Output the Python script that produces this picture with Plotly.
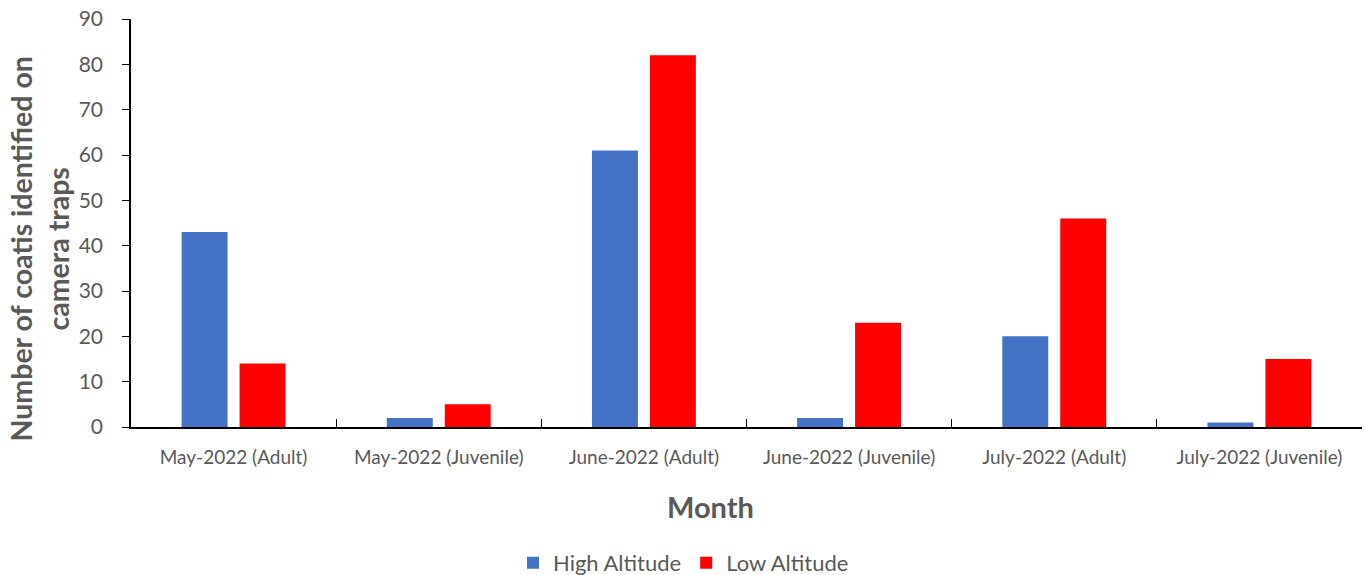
import plotly.graph_objects as go

categories = ["May-2022 (Adult)", "May-2022 (Juvenile)", "June-2022 (Adult)",
              "June-2022 (Juvenile)", "July-2022 (Adult)", "July-2022 (Juvenile)"]
high_altitude = [43, 2, 61, 2, 20, 1]
low_altitude = [14, 5, 82, 23, 46, 15]

font_family = "Lato, 'Open Sans', sans-serif"
gray = "#595959"

fig = go.Figure()
fig.add_trace(go.Bar(name="High Altitude", x=categories, y=high_altitude,
                     marker=dict(color="#4472C4", line=dict(width=0))))
fig.add_trace(go.Bar(name="Low Altitude", x=categories, y=low_altitude,
                     marker=dict(color="#FF0000", line=dict(width=0))))

fig.update_layout(
    width=1367, height=575,
    margin=dict(l=131, r=5, t=19, b=148),
    paper_bgcolor="white", plot_bgcolor="white",
    barmode="group", bargap=0.435, bargroupgap=0.207,
    font=dict(family=font_family, color=gray),
    legend=dict(orientation="h", x=0.5, xref="container", xanchor="center",
                y=0.021, yref="container", yanchor="middle",
                font=dict(size=22, color=gray), itemwidth=30, traceorder="normal"),
    xaxis=dict(
        automargin=False,
        showline=True, linecolor="black", linewidth=1.5,
        ticks="inside", tickson="boundaries", ticklen=8, tickcolor="black",
        tickfont=dict(size=19, color=gray), ticklabelstandoff=12,
        showgrid=False,
    ),
    yaxis=dict(
        automargin=False,
        range=[0, 90], dtick=10,
        showline=True, linecolor="black", linewidth=1.5,
        ticks="outside", ticklen=7, tickcolor="black",
        tickfont=dict(size=21, color=gray), ticklabelstandoff=15,
        showgrid=False, zeroline=False,
    ),
)

# Axis titles
fig.add_annotation(text="<b>Month</b>", xref="paper", yref="paper",
                   x=0.471, y=-0.194, xanchor="center", yanchor="middle",
                   showarrow=False, font=dict(size=29, color=gray))
fig.add_annotation(text="<b>Number of coatis identified on<br>camera traps</b>",
                   xref="paper", yref="paper", x=-0.0745, y=0.436,
                   xanchor="center", yanchor="middle", textangle=-90,
                   showarrow=False, font=dict(size=28.5, color=gray))

fig.write_html("out.html")
